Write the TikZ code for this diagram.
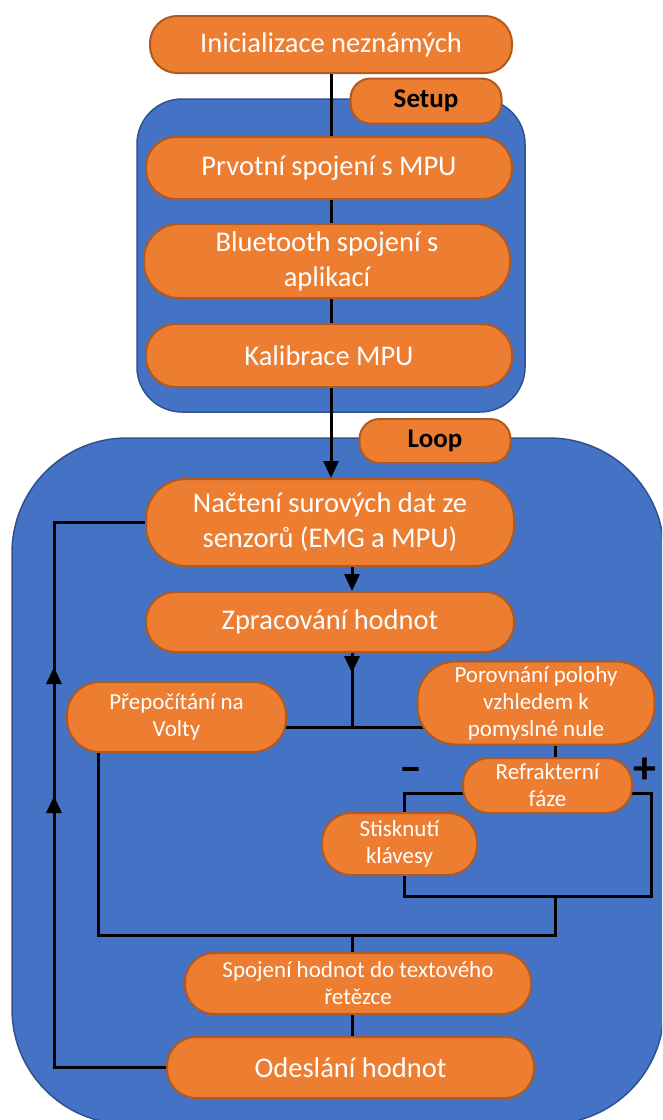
\documentclass[tikz,border=0pt]{standalone}
\usepackage{fontspec}
\setmainfont{Carlito}
\usetikzlibrary{arrows.meta,calc}
\definecolor{orfill}{HTML}{ED7D31}
\definecolor{ordraw}{HTML}{AE5A21}
\definecolor{blfill}{HTML}{4472C4}
\definecolor{bldraw}{HTML}{2F528F}
\pgfdeclarelayer{bg}
\pgfdeclarelayer{lines}
\pgfsetlayers{bg,lines,main}
\tikzset{
  pill/.style={draw=ordraw, fill=orfill, line width=2pt, text=white, align=center, inner sep=0pt, rounded corners=#1},
  bigtxt/.style={font=\fontsize{28.5}{35}\selectfont},
  smalltxt/.style={font=\fontsize{23}{27}\selectfont},
  tag/.style={draw=ordraw, fill=orfill, line width=2pt, text=black, inner sep=0pt, rounded corners=20pt, font=\fontsize{27}{30}\selectfont\bfseries},
  group/.style={draw=bldraw, fill=blfill, line width=1.5pt},
  conn/.style={line width=3pt, black},
  arr/.style={conn, -{Triangle[width=15pt,length=17pt]}},
  sign/.style={inner sep=0pt, text=black, font=\fontsize{46}{46}\selectfont\bfseries}
}
\begin{document}
\begin{tikzpicture}[x=1pt,y=-1pt]
\useasboundingbox (0,0) rectangle (662,1120);
% groups
\begin{pgfonlayer}{bg}
  \fill[white] (0,0) rectangle (662,1120);
  \draw[group, rounded corners=45pt] (137,99) rectangle (525,412);
  \begin{scope}
    \clip (0,0) rectangle (662,1120);
    \draw[group, rounded corners=115pt] (12,438) rectangle (664,1124);
  \end{scope}
\end{pgfonlayer}
% nodes
\node[pill=27pt, bigtxt, minimum width=362pt, minimum height=57pt] (init) at (331,44.5) {Inicializace neznámých};
\node[tag, minimum width=151pt, minimum height=45pt] (setup) at (426,101) {Setup};
\node[pill=30pt, bigtxt, minimum width=366pt, minimum height=62pt] (prv) at (329,168) {Prvotní spojení s MPU};
\node[pill=35pt, bigtxt, minimum width=366pt, minimum height=74pt] (bt) at (327,261) {Bluetooth spojení s\\aplikací};
\node[pill=30pt, bigtxt, minimum width=366pt, minimum height=63pt] (kal) at (329,355.5) {Kalibrace MPU};
\node[tag, minimum width=151pt, minimum height=44pt] (loop) at (435,441) {Loop};
\node[pill=40pt, bigtxt, minimum width=368pt, minimum height=87pt] (nac) at (330,522.5) {Načtení surových dat ze\\senzorů (EMG a MPU)};
\node[pill=29pt, bigtxt, minimum width=368pt, minimum height=60pt] (zpr) at (330,622) {Zpracování hodnot};
\node[pill=33pt, smalltxt, minimum width=219pt, minimum height=70pt] (pre) at (176.5,717) {Přepočítání na\\Volty};
\node[pill=38pt, smalltxt, minimum width=237pt, minimum height=83pt] (por) at (536,703) {Porovnání polohy\\vzhledem k\\pomyslné nule};
\node[pill=26pt, smalltxt, minimum width=169pt, minimum height=55pt] (ref) at (547.5,785.5) {Refrakterní\\fáze};
\node[pill=29pt, smalltxt, minimum width=155pt, minimum height=62pt] (sti) at (399.5,844) {Stisknutí\\klávesy};
\node[pill=29pt, smalltxt, minimum width=346pt, minimum height=61pt] (spo) at (358,983.5) {Spojení hodnot do textového\\řetězce};
\node[pill=29pt, bigtxt, minimum width=367pt, minimum height=61pt] (ode) at (350.5,1067.5) {Odeslání hodnot};
\node[sign] (minus) at (411,775) {–};
\node[sign] (plus) at (645,771) {+};
% helper coordinates
\coordinate (cx) at (352,0);
\coordinate (j1) at (352,727);
\coordinate (cr) at (555,0);
\coordinate (ry) at (0,793);
\coordinate (lx) at (404,0);
\coordinate (rx) at (651,0);
\coordinate (by) at (0,896);
\coordinate (py) at (0,935);
\coordinate (px) at (98,0);
\coordinate (rl) at (54,0);
\coordinate (a1s) at (54,690);
\coordinate (a1e) at (54,667);
\coordinate (a2s) at (54,820);
\coordinate (a2e) at (54,796);
\coordinate (zpa) at (352,673);
% connectors
\begin{pgfonlayer}{lines}
  \draw[conn] (init.south) -- (init.south |- prv.north);
  \draw[conn] (init.south |- prv.south) -- (init.south |- bt.north);
  \draw[conn] (init.south |- bt.south) -- (init.south |- kal.north);
  \draw[arr] (init.south |- kal.south) -- (init.south |- nac.north);
  \draw[arr] (cx |- nac.south) -- (cx |- zpr.north);
  \draw[arr] (cx |- zpr.south) -- (zpa);
  \draw[conn] ($(zpa)+(0,-4)$) -- (j1);
  \draw[conn] (pre.center |- j1) -- (por.center |- j1);
  \draw[conn] (cr |- por.south) -- (cr |- ref.north);
  \draw[conn] (ref.center |- ry) -- (lx |- ry) -- (lx |- sti.north);
  \draw[conn] (lx |- sti.south) -- (lx |- by) -- (rx |- by) -- (rx |- ry) -- (ref.center |- ry);
  \draw[conn] (cr |- by) -- (cr |- py) -- (px |- py) -- (px |- pre.south);
  \draw[conn] (cx |- py) -- (cx |- spo.north);
  \draw[conn] (cx |- spo.south) -- (cx |- ode.north);
  \draw[conn] (ode.west) -- (rl |- ode.west) -- (rl |- nac.west) -- (nac.west);
  \draw[arr] (a1s) -- (a1e);
  \draw[arr] (a2s) -- (a2e);
\end{pgfonlayer}
\end{tikzpicture}
\end{document}
